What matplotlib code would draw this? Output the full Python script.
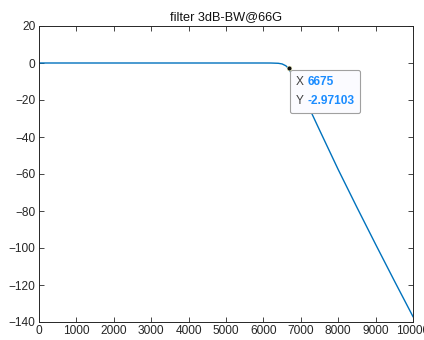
import matplotlib
matplotlib.use("Agg")
import matplotlib.pyplot as plt
from matplotlib.offsetbox import TextArea, HPacker, VPacker, AnnotationBbox

# Values
freq = [0, 1000, 2000, 3000, 4000, 5000, 6000, 6200, 6400, 6500, 6600, 6675,
        6750, 6850, 7000, 7250, 7500, 8000, 8500, 9000, 9500, 10000]
gain_db = [0, 0, 0, 0, 0, 0, -0.001, -0.014, -0.16, -0.51, -1.50, -2.97,
           -5.8, -9.8, -15.8, -25.4, -36.2, -57.6, -78.0, -98.0, -117.7, -137.1]
tip_x = 6675
tip_y = -2.97103
title = "filter 3dB-BW@66G"
xticks = list(range(0, 10001, 1000))
yticks = list(range(-140, 21, 20))

plt.rcParams['font.family'] = ['Liberation Sans', 'DejaVu Sans']
axc = '#262626'
fig = plt.figure(figsize=(4.24, 3.40), dpi=100)
ax = fig.add_axes([39/424, 1-322/340, (413-39)/424, (322-26)/340])
ax.plot(freq, gain_db, color='#0072BD', lw=1.0)
ax.set_xlim(0, 10000)
ax.set_ylim(-140, 20)
ax.set_xticks(xticks)
ax.set_yticks(yticks)
ax.tick_params(direction='in', top=True, right=True, labelsize=8.6,
               colors=axc, length=3.5, width=0.6, pad=2.5)
for s in ax.spines.values():
    s.set_color(axc)
    s.set_linewidth(0.7)
ax.set_title(title, fontsize=9.2, color='#111111', pad=4)

ax.plot([tip_x], [tip_y], 'o', color='#111111', ms=3.5, mec='#ffffcc', mew=0.4, zorder=5)

blue = '#1a8cff'
fs = 8.6
tx = TextArea("X ", textprops=dict(color='#404040', fontsize=fs))
vx = TextArea(f"{tip_x}", textprops=dict(color=blue, fontsize=fs, fontweight='bold'))
ty = TextArea("Y ", textprops=dict(color='#404040', fontsize=fs))
vy = TextArea(f"{tip_y:g}", textprops=dict(color=blue, fontsize=fs, fontweight='bold'))
box = VPacker(children=[HPacker(children=[tx, vx], pad=0, sep=0),
                        HPacker(children=[ty, vy], pad=0, sep=0)],
              pad=0, sep=5, align='left')
ab = AnnotationBbox(box, (tip_x, tip_y), xybox=(5.5, -5.5), xycoords='data',
                    boxcoords='offset points', box_alignment=(0, 1),
                    frameon=True, pad=0.45,
                    bboxprops=dict(boxstyle='round,pad=0.45,rounding_size=0.15',
                                   fc='#fbfbff', ec='#a0a0a0', lw=0.8))
ax.add_artist(ab)

fig.savefig('out.png', dpi=100)
